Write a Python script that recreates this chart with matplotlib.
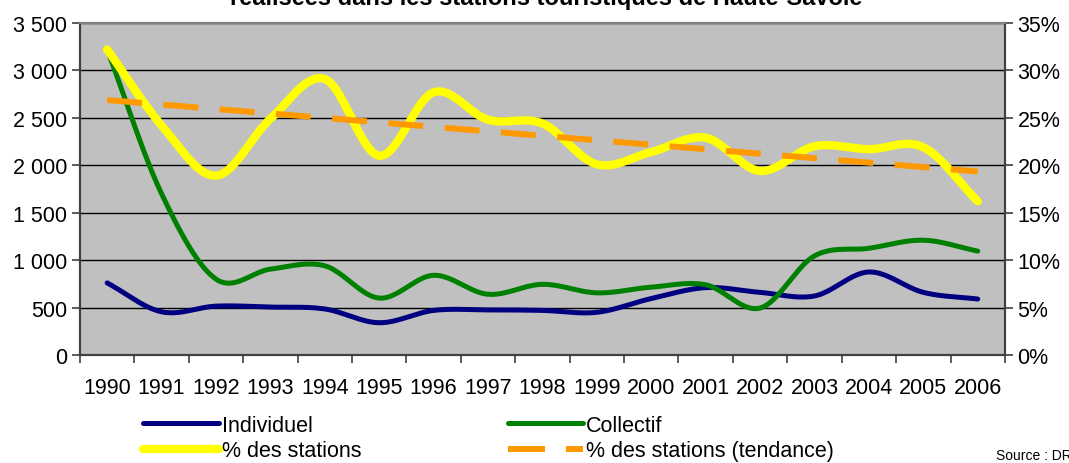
import numpy as np
import matplotlib
matplotlib.use("Agg")
import matplotlib.pyplot as plt
from matplotlib.ticker import FuncFormatter, FixedLocator
from matplotlib.lines import Line2D

plt.rcParams['font.family'] = ['Liberation Sans', 'DejaVu Sans']

years = ['1990', '1991', '1992', '1993', '1994', '1995', '1996', '1997', '1998',
         '1999', '2000', '2001', '2002', '2003', '2004', '2005', '2006']
individuel = [760, 455, 515, 505, 485, 340, 470, 475, 470, 450, 595, 710, 660, 622, 875, 660, 590]
collectif = [3220, 1700, 800, 905, 940, 600, 840, 640, 745, 655, 715, 740, 495, 1045, 1125, 1210, 1095]
pct_stations = [32.2, 24.2, 18.9, 24.9, 29.1, 21.0, 27.7, 24.8, 24.4, 20.1, 21.4, 22.9,
                19.4, 22.0, 21.7, 21.9, 16.2]


def smooth(y, n=24):
    # Catmull-Rom curve through the points, like Excel "smoothed line"
    y = np.asarray(y, dtype=float)
    x = np.arange(len(y), dtype=float)
    px = np.concatenate([[2 * x[0] - x[1]], x, [2 * x[-1] - x[-2]]])
    py = np.concatenate([[2 * y[0] - y[1]], y, [2 * y[-1] - y[-2]]])
    xs, ys = [], []
    t = np.linspace(0, 1, n, endpoint=False)
    for i in range(1, len(px) - 2):
        for arr, out in ((px, xs), (py, ys)):
            p0, p1, p2, p3 = arr[i - 1], arr[i], arr[i + 1], arr[i + 2]
            out.extend(0.5 * (2 * p1 + (-p0 + p2) * t + (2 * p0 - 5 * p1 + 4 * p2 - p3) * t ** 2
                              + (-p0 + 3 * p1 - 3 * p2 + p3) * t ** 3))
    xs.append(x[-1])
    ys.append(y[-1])
    return np.array(xs), np.array(ys)


idx = np.arange(len(years))
coef = np.polyfit(idx, pct_stations, 1)
trend = np.polyval(coef, idx)

FS = 15.5

fig = plt.figure(figsize=(10.69, 4.64), dpi=100)
ax = fig.add_axes([0.0748, 0.2328, 0.8653, 0.7155])
ax.set_facecolor('#C0C0C0')
ax2 = ax.twinx()

ax.set_xlim(-0.5, len(years) - 0.5)
ax.set_ylim(0, 3500)
ax2.set_ylim(0, 35)

ax.yaxis.set_major_locator(FixedLocator(np.arange(0, 3501, 500)))
ax.yaxis.set_major_formatter(FuncFormatter(lambda v, p: f"{int(v):,}".replace(',', ' ')))
ax2.yaxis.set_major_locator(FixedLocator(np.arange(0, 36, 5)))
ax2.yaxis.set_major_formatter(FuncFormatter(lambda v, p: f"{int(v)}%"))
ax.grid(axis='y', color='black', linewidth=1.0)
ax.set_axisbelow(True)

ax.set_xticks(idx)
ax.set_xticklabels(years)
ax.set_xticks(np.arange(-0.5, len(years)), minor=True)
ax.tick_params(axis='x', which='major', length=0, pad=16, labelsize=FS)
ax.tick_params(axis='x', which='minor', length=6, width=1.2, color='#404040', direction='out')
ax.tick_params(axis='y', length=6, width=1.2, color='#404040', labelsize=FS, pad=3)
ax2.tick_params(axis='y', length=6, width=1.2, color='#404040', labelsize=FS, pad=3)

for a in (ax, ax2):
    a.spines['top'].set_color('#808080')
    a.spines['top'].set_linewidth(1.5)
    for s in ('left', 'right', 'bottom'):
        a.spines[s].set_color('#404040')
        a.spines[s].set_linewidth(1.5)

xs, ys = smooth(individuel)
ax.plot(xs, ys, color='#000080', lw=3.6, solid_capstyle='round', zorder=3)
xs, ys = smooth(collectif)
ax.plot(xs, ys, color='#008000', lw=3.6, solid_capstyle='round', zorder=4)
xs, ys = smooth(pct_stations)
ax2.plot(xs, ys, color='#FFFF00', lw=6, solid_capstyle='round', zorder=3)
ax2.plot(idx, trend, color='#FF9900', lw=4.3, dashes=(5.85, 3.6), zorder=4)

fig.text(0.511, 1.004, "réalisées dans les stations touristiques de Haute-Savoie",
         ha='center', va='center', fontsize=17, fontweight='bold')

handles = [
    Line2D([], [], color='#000080', lw=3.6, solid_capstyle='round'),
    Line2D([], [], color='#FFFF00', lw=6, solid_capstyle='round'),
    Line2D([], [], color='#008000', lw=3.6, solid_capstyle='round'),
    Line2D([], [], color='#FF9900', lw=4.3, dashes=(6.2, 3.5)),
]
labels = ['Individuel', '% des stations', 'Collectif', '% des stations (tendance)']
fig.legend(handles, labels, ncol=2, loc='upper left', bbox_to_anchor=(0.134, 0.104),
           frameon=False, fontsize=FS, handlelength=3.5, handletextpad=0.15,
           columnspacing=6.8, labelspacing=0.22, borderaxespad=0, borderpad=0)

fig.text(0.932, 0.003, "Source : DRE", fontsize=10, ha='left', va='bottom')

fig.savefig('out.png', dpi=100)
